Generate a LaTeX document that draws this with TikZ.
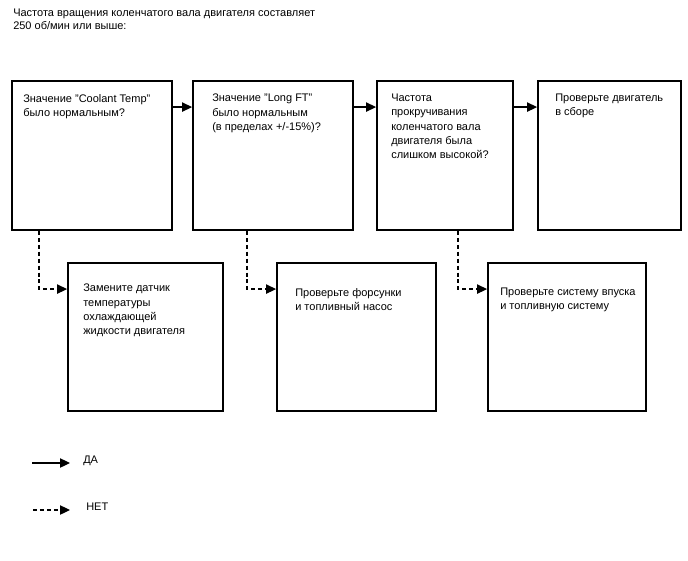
\documentclass[tikz,border=0pt]{standalone}
\usepackage{fontspec}
\setmainfont{Liberation Sans}
\usetikzlibrary{arrows.meta,fit}
\tikzset{
  box/.style={draw, line width=1.4pt, inner sep=0pt},
  txt/.style={anchor=north west, inner sep=0pt, align=left, font=\fontsize{8.25pt}{10.6pt}\selectfont},
  yes/.style={draw, line width=0.9pt, -{Triangle[length=7.5pt,width=7pt]}},
  no/.style={draw, line width=0.9pt, dash pattern=on 3pt off 2.2pt, -{Triangle[length=7.5pt,width=7pt]}},
}
\begin{document}
\begin{tikzpicture}[x=0.75pt,y=-0.75pt]
\useasboundingbox (0,0) rectangle (688,560);
\node[txt, font=\fontsize{8.25pt}{9.8pt}\selectfont] (title) at (13,9) {Частота вращения коленчатого вала двигателя составляет\\250 об/мин или выше:};
% boxes
\node[box, fit={(12,81) (172,230)}] (b1) {};
\node[box, fit={(193,81) (353,230)}] (b2) {};
\node[box, fit={(377,81) (513,230)}] (b3) {};
\node[box, fit={(538,81) (681,230)}] (b4) {};
\node[box, fit={(68,263) (223,411)}] (b5) {};
\node[box, fit={(277,263) (436,411)}] (b6) {};
\node[box, fit={(488,263) (646,411)}] (b7) {};
% texts
\node[txt] (t1) at (23,94) {Значение "Coolant Temp"\\было нормальным?};
\node[txt] (t2) at (212,94) {Значение "Long FT"\\было нормальным\\(в пределах +/-15\%)?};
\node[txt] (t3) at (391,94) {Частота\\прокручивания\\коленчатого вала\\двигателя была\\слишком высокой?};
\node[txt] (t4) at (555,94) {Проверьте двигатель\\в сборе};
\node[txt] (t5) at (83,284) {Замените датчик\\температуры\\охлаждающей\\жидкости двигателя};
\node[txt] (t6) at (295,288) {Проверьте форсунки\\и топливный насос};
\node[txt] (t7) at (500,288) {Проверьте систему впуска\\и топливную систему};
% yes arrows
\draw[yes] ([yshift=-20.25pt]b1.north east) -- ([yshift=-20.25pt]b2.north west);
\draw[yes] ([yshift=-20.25pt]b2.north east) -- ([yshift=-20.25pt]b3.north west);
\draw[yes] ([yshift=-20.25pt]b3.north east) -- ([yshift=-20.25pt]b4.north west);
% no arrows
\draw[no] ([xshift=21pt]b1.south west) |- ([yshift=-20.25pt]b5.north west);
\draw[no] ([xshift=41.25pt]b2.south west) |- ([yshift=-20.25pt]b6.north west);
\draw[no] ([xshift=61.5pt]b3.south west) |- ([yshift=-20.25pt]b7.north west);
% legend
\coordinate (ly1) at (32,463);
\coordinate (ly2) at (70,463);
\coordinate (ln1) at (33,510);
\coordinate (ln2) at (70,510);
\draw[yes] (ly1) -- (ly2);
\draw[no] (ln1) -- (ln2);
\node[txt, anchor=west] (lyes) at (83,461) {ДА};
\node[txt, anchor=west] (lno) at (86,507) {НЕТ};
\end{tikzpicture}
\end{document}
